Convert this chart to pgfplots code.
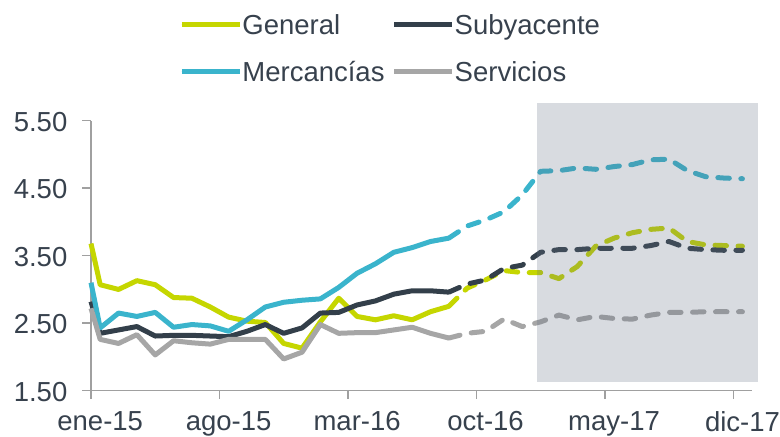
\documentclass[border=0pt]{standalone}
\usepackage{pgfplots}
\pgfplotsset{compat=1.18}
\usepackage{fontspec}
\setmainfont{Liberation Sans}
\definecolor{cgen}{RGB}{197,214,0}
\definecolor{csub}{RGB}{51,63,74}
\definecolor{cmer}{RGB}{58,180,204}
\definecolor{cser}{RGB}{166,166,166}
\definecolor{ctxt}{RGB}{55,65,77}
\definecolor{caxis}{RGB}{160,160,160}
\definecolor{cshade}{RGB}{99,111,131}
\begin{document}
\begin{tikzpicture}[x=1bp,y=1bp]
\useasboundingbox (0,0) rectangle (780,437);
\begin{axis}[
  at={(91bp,46.3bp)}, anchor=south west, scale only axis,
  width=660.6bp, height=270bp,
  xmin=-0.5, xmax=35.5, ymin=1.5, ymax=5.5,
  clip=false,
  axis x line*=bottom, axis y line*=left,
  axis line style={caxis, line width=1.5bp, -},
  xtick={-0.5,6.5,13.5,20.5,27.5,34.5},
  xticklabels={ene-15,ago-15,mar-16,oct-16,may-17,dic-17},
  ytick={1.5,2.5,3.5,4.5,5.5},
  yticklabels={1.50,2.50,3.50,4.50,5.50},
  minor tick num=0,
  tick align=outside, major tick length=8.5bp,
  tick style={caxis, line width=1.5bp},
  tick label style={font=\fontsize{27.5bp}{31bp}\selectfont, text=ctxt, inner sep=0pt},
  xticklabel style={anchor=north, xshift=9.2bp, yshift=-12bp},
  yticklabel style={anchor=east, xshift=-15bp, yshift=-1.3bp},
  legend columns=2,
  legend style={at={(axis description cs:0.1338,1.3933)}, anchor=north west,
    draw=none, fill=none, inner xsep=0pt, inner ysep=0pt, outer sep=0pt,
    font=\fontsize{27.5bp}{31bp}\selectfont, text=ctxt,
    nodes={inner sep=0pt, text height=19.5bp, text depth=0bp},
    cells={anchor=west}, row sep=28.2bp,
    /tikz/every even column/.append style={column sep=7.2bp}},
  legend image code/.code={%
    \draw[#1, solid, line width=5bp, line cap=round] (2.5bp,0bp) -- (53.1bp,0bp);
    \path (0bp,0bp) -- (58bp,0bp);},
  every axis plot/.append style={line width=5bp, line join=round},
]
% General
\addplot[cgen] coordinates {(-0.5,3.68) (0,3.07) (1,3.00) (2,3.13) (3,3.07) (4,2.88) (5,2.87) (6,2.74) (7,2.59) (8,2.53) (9,2.51) (10,2.20) (11,2.13) (12,2.52) (13,2.87) (14,2.60) (15,2.55) (16,2.61) (17,2.55) (18,2.67) (19,2.75)};
\addlegendentry{General}
% Subyacente
\addplot[csub] coordinates {(-0.5,2.82) (0,2.35) (1,2.40) (2,2.45) (3,2.31) (4,2.32) (5,2.32) (6,2.31) (7,2.30) (8,2.38) (9,2.48) (10,2.35) (11,2.43) (12,2.65) (13,2.66) (14,2.77) (15,2.83) (16,2.93) (17,2.98) (18,2.98) (19,2.96)};
\addlegendentry{Subyacente}
% Mercancias
\addplot[cmer] coordinates {(-0.5,3.10) (0,2.43) (1,2.65) (2,2.60) (3,2.66) (4,2.44) (5,2.48) (6,2.46) (7,2.38) (8,2.55) (9,2.74) (10,2.81) (11,2.84) (12,2.86) (13,3.03) (14,3.24) (15,3.38) (16,3.55) (17,3.62) (18,3.71) (19,3.76)};
\addlegendentry{Mercancías}
% Servicios
\addplot[cser] coordinates {(-0.5,2.72) (0,2.26) (1,2.20) (2,2.33) (3,2.03) (4,2.24) (5,2.21) (6,2.19) (7,2.26) (8,2.26) (9,2.26) (10,1.97) (11,2.07) (12,2.48) (13,2.35) (14,2.36) (15,2.36) (16,2.40) (17,2.44) (18,2.35) (19,2.28)};
\addlegendentry{Servicios}
% forecasts (dashed)
\addplot[cgen, line cap=round, dash pattern=on 11.5bp off 11.5bp, forget plot] coordinates {(19,2.75) (20,3.02) (21,3.14) (22,3.28) (23,3.25) (24,3.25) (25,3.16) (26,3.34) (27,3.64) (28,3.76) (29,3.84) (30,3.89) (31,3.91) (32,3.71) (33,3.66) (34,3.65) (35,3.64)};
\addplot[csub, line cap=round, dash pattern=on 11.5bp off 11.5bp, forget plot] coordinates {(19,2.96) (20,3.08) (21,3.14) (22,3.31) (23,3.36) (24,3.55) (25,3.59) (26,3.59) (27,3.61) (28,3.61) (29,3.61) (30,3.65) (31,3.71) (32,3.61) (33,3.59) (34,3.58) (35,3.58)};
\addplot[cmer, line cap=round, dash pattern=on 11.5bp off 11.5bp, forget plot] coordinates {(19,3.76) (20,3.94) (21,4.03) (22,4.15) (23,4.40) (24,4.75) (25,4.76) (26,4.80) (27,4.78) (28,4.82) (29,4.85) (30,4.92) (31,4.93) (32,4.76) (33,4.67) (34,4.65) (35,4.64)};
\addplot[cser, line cap=round, dash pattern=on 11.5bp off 11.5bp, forget plot] coordinates {(19,2.28) (20,2.35) (21,2.38) (22,2.56) (23,2.45) (24,2.52) (25,2.62) (26,2.55) (27,2.60) (28,2.57) (29,2.56) (30,2.62) (31,2.66) (32,2.66) (33,2.67) (34,2.67) (35,2.67)};
% shaded forecast region
\addplot[draw=none, line width=0pt, fill=cshade, fill opacity=0.25, forget plot] coordinates {(23.78,1.633) (35.87,1.633) (35.87,5.767) (23.78,5.767)} -- cycle;
\end{axis}
\end{tikzpicture}
\end{document}
